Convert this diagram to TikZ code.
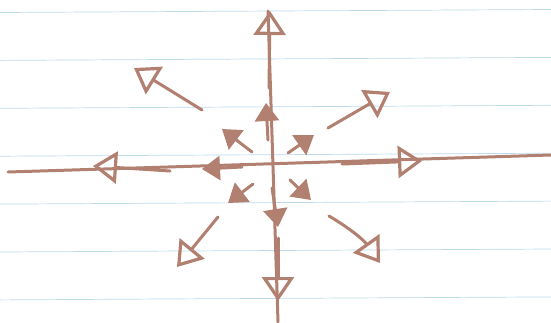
\documentclass[tikz,border=0pt]{standalone}
\usetikzlibrary{arrows.meta}
\definecolor{ink}{RGB}{178,128,112}
\definecolor{rulecol}{RGB}{188,218,236}

\begin{document}
\begin{tikzpicture}[x=1pt,y=-1pt,
  pen/.style={draw=ink,line width=3pt,line cap=round,line join=round},
  far/.style={pen,-{Triangle[open,length=24pt,width=32pt,line width=3.2pt]}},
  near/.style={pen,-{Triangle[length=18pt,width=24pt]}}]
\useasboundingbox (0,0) rectangle (551,322);
\fill[white] (0,0) rectangle (551,322);
\foreach \k in {0,...,6}{\draw[rulecol,line width=.7pt] (0,{12.5+47.9*\k}) -- (551,{9.5+47.9*\k});}
% axes
\coordinate (xl) at (8,172);\coordinate (xr) at (551,155);\coordinate (yt) at (268,11);\coordinate (yb) at (278,322);
\draw[pen] (xl)--(xr);\draw[pen] (yt)--(yb);
% outer ring
\foreach \n/\ax/\ay/\bx/\by in {N/269/88/270/11,S/278/238/278/301,W/170/171/93/166,E/342/164/422/161,NW/202/110/134/68,NE/328/128/390/92,SW/218/217/177/267}{\coordinate (o\n a) at (\ax,\ay);\coordinate (o\n b) at (\bx,\by);\draw[far] (o\n a)--(o\n b);}
\coordinate (oSEa) at (329,216);\coordinate (oSEb) at (380,263);\draw[far] (oSEa) to[bend left=12] (oSEb);
% inner ring
\foreach \n/\ax/\ay/\bx/\by in {N/268/140/266/103,S/272/188/278/227,W/242/167/202/169,NW/252/152/222/129,NE/288/153/314/135,SW/253/184/228/203,SE/290/180/311/200}{\coordinate (i\n a) at (\ax,\ay);\coordinate (i\n b) at (\bx,\by);\draw[near] (i\n a)--(i\n b);}
\end{tikzpicture}
\end{document}
